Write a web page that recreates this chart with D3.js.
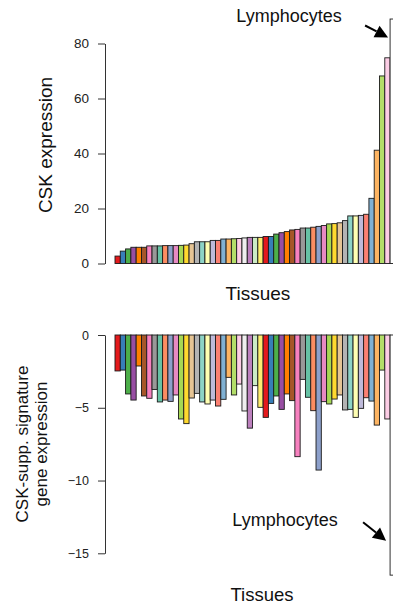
<!DOCTYPE html>
<html>
<head>
<meta charset="utf-8">
<script src="https://cdn.jsdelivr.net/npm/d3@7"></script>
<style>
  body { margin: 0; background: #fff; }
  svg { display: block; font-family: "Liberation Sans", Arial, sans-serif; }
</style>
</head>
<body>
<div id="chart"></div>
<script>
// tissues sorted by CSK expression; last one is lymphocytes
const cskExpr = [2.7, 4.5, 5.3, 5.9, 5.9, 5.9, 6.4, 6.4, 6.4, 6.5,
  6.5, 6.5, 6.6, 6.7, 7.2, 7.9, 7.9, 7.9, 8.4, 8.4,
  8.9, 8.9, 9.0, 9.1, 9.3, 9.5, 9.5, 9.5, 9.8, 9.8,
  10.7, 11.2, 11.6, 12.2, 12.4, 12.9, 12.9, 13.2, 13.5, 13.8,
  14.4, 14.5, 14.8, 15.6, 17.3, 17.3, 17.5, 17.9, 23.7, 41.2,
  68.2, 74.8, 88.9];

const suppExpr = [-2.47, -2.41, -4.05, -4.47, -2.13, -4.19, -4.35, -3.74, -4.6, -4.47,
  -4.56, -4.12, -5.77, -6.09, -4.33, -4.01, -4.6, -4.74, -4.47, -4.88,
  -4.42, -2.91, -4.12, -3.37, -5.22, -6.4, -3.48, -4.97, -5.66, -4.7,
  -4.19, -5.11, -4.05, -4.51, -8.36, -3.05, -4.28, -5.2, -9.28, -4.58,
  -4.74, -4.4, -4.12, -5.15, -5.11, -5.66, -5.04, -4.31, -4.54, -6.19,
  -2.41, -5.77, -16.5];

const topTicks = [0, 20, 40, 60, 80];
const bottomTicks = [0, -5, -10, -15];
const highlight = 'Lymphocytes';

// Set1 (no yellow), Set2, Set3
const palette = [
  '#E41A1C', '#377EB8', '#4DAF4A', '#984EA3', '#FF7F00', '#A65628', '#F781BF', '#999999',
  '#66C2A5', '#FC8D62', '#8DA0CB', '#E78AC3', '#A6D854', '#FFD92F', '#E5C494', '#B3B3B3',
  '#8DD3C7', '#FFFFB3', '#BEBADA', '#FB8072', '#80B1D3', '#FDB462', '#B3DE69', '#FCCDE5',
  '#EFEFEF', '#BC80BD', '#CCEBC5', '#FFED6F'
];

const W = 393, H = 608;
const svg = d3.select('#chart').append('svg').attr('width', W).attr('height', H);

const idx = d3.range(cskExpr.length);
const x = d3.scaleBand().domain(idx).range([115, 115 + 5.29 * idx.length]).padding(0);
const color = i => palette[i % palette.length];
const last = idx.length - 1;

const yTop = d3.scaleLinear().domain([0, 80]).range([263.5, 43.5]);
const yBot = d3.scaleLinear().domain([-15, 0]).range([553.3, 335]);

function styleAxis(g, fs) {
  g.select('.domain').attr('stroke', '#333');
  g.selectAll('.tick line').attr('stroke', '#333');
  g.selectAll('.tick text').attr('font-size', fs).attr('fill', '#222')
    .attr('font-family', '"Liberation Sans", Arial, sans-serif');
}

// top panel
svg.append('g').attr('transform', 'translate(105,0)')
  .call(d3.axisLeft(yTop).tickValues(topTicks).tickSize(7).tickPadding(9).tickSizeOuter(0))
  .call(g => styleAxis(g, 13.5));

svg.append('g').selectAll('rect').data(idx).join('rect')
  .attr('x', i => x(i))
  .attr('y', i => yTop(cskExpr[i]))
  .attr('width', x.bandwidth())
  .attr('height', i => yTop(0) - yTop(cskExpr[i]))
  .attr('fill', (i) => i === last ? '#fff' : color(i))
  .attr('stroke', '#1a1a1a')
  .attr('stroke-width', 0.9);

svg.append('text').attr('transform', 'translate(52,145) rotate(-90)')
  .attr('text-anchor', 'middle').attr('font-size', 19).attr('fill', '#111')
  .text('CSK expression');

svg.append('text').attr('x', 258).attr('y', 300)
  .attr('text-anchor', 'middle').attr('font-size', 19).attr('fill', '#111')
  .text('Tissues');

// bottom panel
svg.append('g').attr('transform', 'translate(105,0)')
  .call(d3.axisLeft(yBot).tickValues(bottomTicks).tickSize(7).tickPadding(9).tickSizeOuter(0))
  .call(g => styleAxis(g, 12.5));

svg.append('g').selectAll('rect').data(idx).join('rect')
  .attr('x', i => x(i))
  .attr('y', yBot(0))
  .attr('width', x.bandwidth())
  .attr('height', i => yBot(suppExpr[i]) - yBot(0))
  .attr('fill', (i) => i === last ? '#fff' : color(i))
  .attr('stroke', '#1a1a1a')
  .attr('stroke-width', 0.9);

const ylab = svg.append('text').attr('transform', 'translate(0,444) rotate(-90)')
  .attr('text-anchor', 'middle').attr('font-size', 17).attr('fill', '#111');
ylab.append('tspan').attr('x', 0).attr('y', 28).text('CSK-supp.  signature');
ylab.append('tspan').attr('x', 0).attr('y', 47).text('gene expression');

svg.append('text').attr('x', 262).attr('y', 601)
  .attr('text-anchor', 'middle').attr('font-size', 18.5).attr('fill', '#111')
  .text('Tissues');

// lymphocyte callouts
function callout(tx, ty, x1, y1, x2, y2) {
  svg.append('text').attr('x', tx).attr('y', ty).attr('text-anchor', 'middle')
    .attr('font-size', 18).attr('fill', '#111').text(highlight);
  const ang = Math.atan2(y2 - y1, x2 - x1);
  const len = 13, half = 6.5;
  const bx = x2 - len * Math.cos(ang), by = y2 - len * Math.sin(ang);
  svg.append('line').attr('x1', x1).attr('y1', y1).attr('x2', bx).attr('y2', by)
    .attr('stroke', '#000').attr('stroke-width', 2);
  const pts = [
    [x2, y2],
    [bx + half * Math.sin(ang), by - half * Math.cos(ang)],
    [bx - half * Math.sin(ang), by + half * Math.cos(ang)]
  ];
  svg.append('polygon').attr('points', pts.map(p => p.join(',')).join(' ')).attr('fill', '#000');
}

const lx = x(last);
callout(289, 22, lx - 25, yTop(80) - 18, lx - 2, yTop(80) - 6);
callout(285, 526, lx - 27, yBot(-13) - 2, lx - 4, yBot(-14) + 2);
</script>
</body>
</html>
